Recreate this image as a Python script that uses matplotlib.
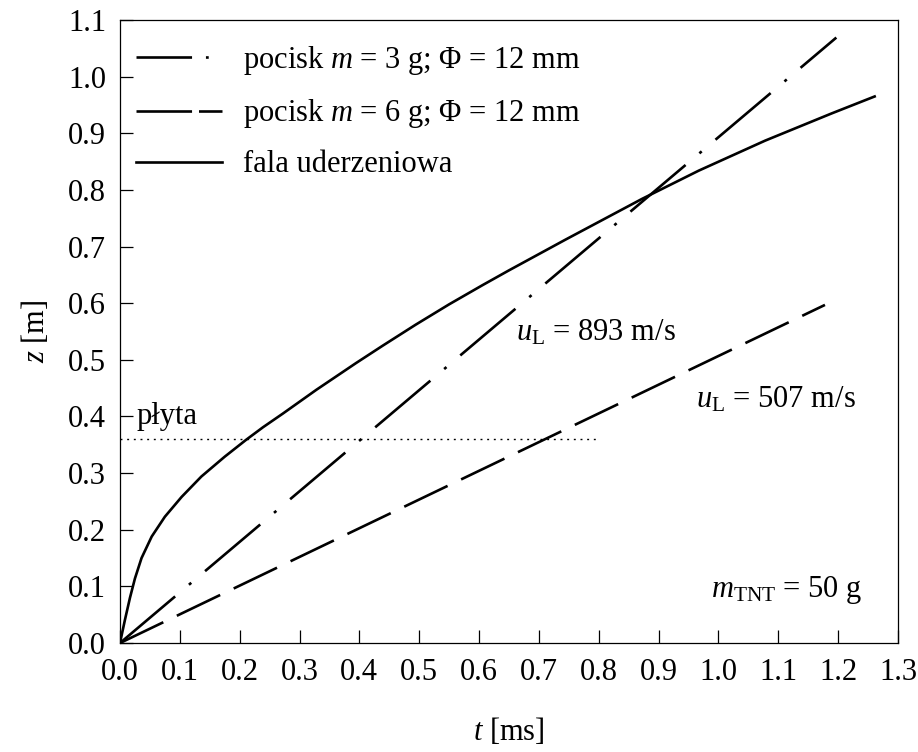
import matplotlib
matplotlib.use("Agg")
import matplotlib.pyplot as plt
from matplotlib.lines import Line2D
import numpy as np

plt.rcParams['font.family'] = ['Liberation Serif', 'DejaVu Serif']
plt.rcParams['mathtext.fontset'] = 'custom'
plt.rcParams['mathtext.rm'] = 'Liberation Serif'
plt.rcParams['mathtext.it'] = 'Liberation Serif:italic'
plt.rcParams['lines.scale_dashes'] = False
plt.rcParams['font.size'] = 22

# shock wave trajectory
t_fala = [0, 0.0083, 0.0167, 0.025, 0.036, 0.053, 0.075, 0.103, 0.136, 0.175,
          0.211, 0.239, 0.272, 0.328, 0.394, 0.439, 0.494, 0.55, 0.606, 0.65,
          0.744, 0.872, 0.967, 1.078, 1.189, 1.261]
z_fala = [0, 0.041, 0.08, 0.114, 0.15, 0.188, 0.223, 0.258, 0.294, 0.329,
          0.359, 0.381, 0.405, 0.447, 0.494, 0.525, 0.562, 0.598, 0.632, 0.658,
          0.712, 0.784, 0.834, 0.887, 0.935, 0.965]

# projectiles: straight lines from origin
t_m3 = [0.0, 1.197]
z_m3 = [0.0, 1.069]
t_m6 = [0.0, 1.178]
z_m6 = [0.0, 0.597]

# plate level
t_plyta = [0.0, 0.8]
z_plyta = [0.36, 0.36]

labels = ['pocisk $m$ = 3 g; Φ = 12 mm',
          'pocisk $m$ = 6 g; Φ = 12 mm',
          'fala uderzeniowa']

fig = plt.figure(figsize=(9.18, 7.52), dpi=100)
ax = fig.add_axes([0.1307, 0.1449, 0.8475, 0.8285])

ax.plot(t_m3, z_m3, color='black', lw=1.9, dashes=(52, 13, 2.2, 13),
        dash_capstyle='butt')
ax.plot(t_m6, z_m6, color='black', lw=1.9, dashes=(34.6, 10.8),
        dash_capstyle='butt')
ax.plot(t_fala, z_fala, color='black', lw=1.9, solid_joinstyle='round')
ax.plot(t_plyta, z_plyta, color='black', lw=1.0, dashes=(1.4, 3.4))

# legend samples use shorter patterns, like in the original
h1 = Line2D([], [], color='black', lw=1.9, dashes=(40, 10, 2, 10), dash_capstyle='butt')
h2 = Line2D([], [], color='black', lw=1.9, dashes=(40, 5), dash_capstyle='butt')
h3 = Line2D([], [], color='black', lw=1.9)
leg = ax.legend([h1, h2, h3], labels,
                loc='upper left', bbox_to_anchor=(0.005, 0.981),
                frameon=False, handlelength=2.8,
                handletextpad=0.7, labelspacing=0.66, borderaxespad=0,
                fontsize=22)

ax.text(0.662, 0.548, '$u_\\mathrm{L}$ = 893 m/s', va='center', ha='left')
ax.text(0.962, 0.429, '$u_\\mathrm{L}$ = 507 m/s', va='center', ha='left')
ax.text(0.988, 0.094, '$m_\\mathrm{TNT}$ = 50 g', va='center', ha='left')
ax.text(0.028, 0.40, 'płyta', va='center', ha='left')

ax.set_xlim(0, 1.3)
ax.set_ylim(0, 1.1)
ax.set_xticks(np.arange(0, 1.31, 0.1))
ax.set_yticks(np.arange(0, 1.11, 0.1))
ax.xaxis.set_major_formatter(matplotlib.ticker.FormatStrFormatter('%.1f'))
ax.yaxis.set_major_formatter(matplotlib.ticker.FormatStrFormatter('%.1f'))
ax.tick_params(direction='in', length=9.5, width=0.9, pad=10)
ax.tick_params(axis='x', pad=11)
for s in ax.spines.values():
    s.set_linewidth(0.9)

ax.set_xlabel('$t$ [ms]', labelpad=21)
ax.set_ylabel('$z$ [m]', labelpad=12)

fig.savefig('out.png', dpi=100)
